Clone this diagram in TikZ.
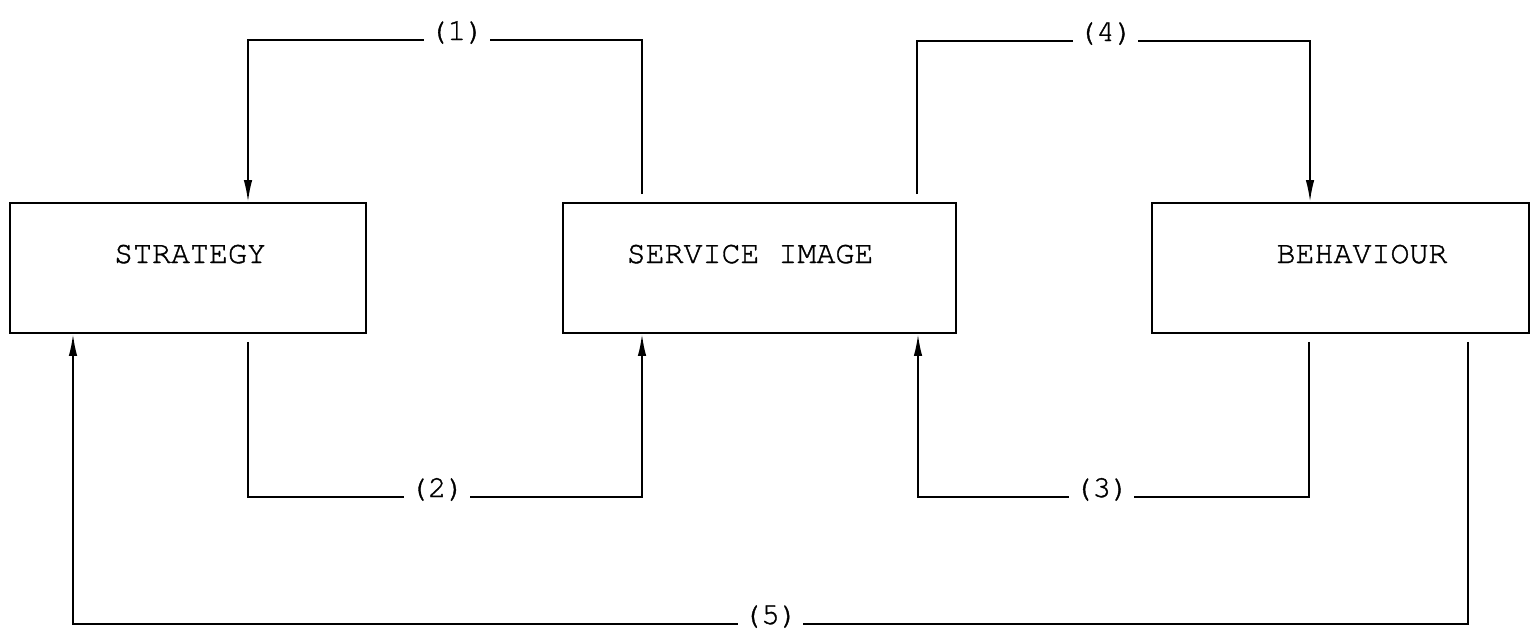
\documentclass[tikz,border=0pt]{standalone}
\usepackage{fontspec}
\newfontfamily\typefont[FakeBold=1.2]{texgyrecursor-regular.otf}
\usetikzlibrary{arrows.meta}

\tikzset{
	flow/.style={line width=1.1pt,-{Latex[length=4.4mm,width=1.7mm]},shorten <=1.6mm},
	tag/.style={fill=white,anchor=base,inner xsep=1mm,inner ysep=0.6mm,font=\typefont\fontsize{17.5}{20}\selectfont}
}

\begin{document}
\begin{tikzpicture}[x=0.2mm,y=-0.2mm]
	\useasboundingbox (0,0) rectangle (1531,631);
	\begin{scope}[every node/.style={rectangle,draw,line width=1.1pt,inner sep=0pt,minimum height=26mm}]
	\node[minimum width=71.2mm] (S) at (188,268) {};
	\node[minimum width=78.6mm] (I) at (759.5,268) {};
	\node[minimum width=75.4mm] (B) at (1340.5,268) {};
	\end{scope}
	\begin{scope}[every node/.style={anchor=base,inner sep=0pt,font=\typefont\fontsize{18}{21}\selectfont}]
	\node (Stxt) at (190,263) {STRATEGY};
	\node (Itxt) at (750,263) {SERVICE IMAGE};
	\node (Btxt) at (1362,263) {BEHAVIOUR};
	\end{scope}
	\coordinate (a1) at (248,40);
	\coordinate (a2) at (642,40);
	\coordinate (b1) at (248,497);
	\coordinate (b2) at (642,497);
	\coordinate (c1) at (1309,497);
	\coordinate (c2) at (918,497);
	\coordinate (d1) at (917,41);
	\coordinate (d2) at (1310,41);
	\coordinate (e1) at (1468,624);
	\coordinate (e2) at (73,624);
	\draw [flow] (I.north -| a2) -- (a2) -- node[tag,pos=0.47] {(1)} (a1) -- (S.north -| a1);
	\draw [flow] (S.south -| b1) -- (b1) -- node[tag,pos=0.48] {(2)} (b2) -- (I.south -| b2);
	\draw [flow] (B.south -| c1) -- (c1) -- node[tag,pos=0.53] {(3)} (c2) -- (I.south -| c2);
	\draw [flow] (I.north -| d1) -- (d1) -- node[tag,pos=0.48] {(4)} (d2) -- (B.north -| d2);
	\draw [flow] (B.south -| e1) -- (e1) -- node[tag,pos=0.5] {(5)} (e2) -- (S.south -| e2);
\end{tikzpicture}
\end{document}
